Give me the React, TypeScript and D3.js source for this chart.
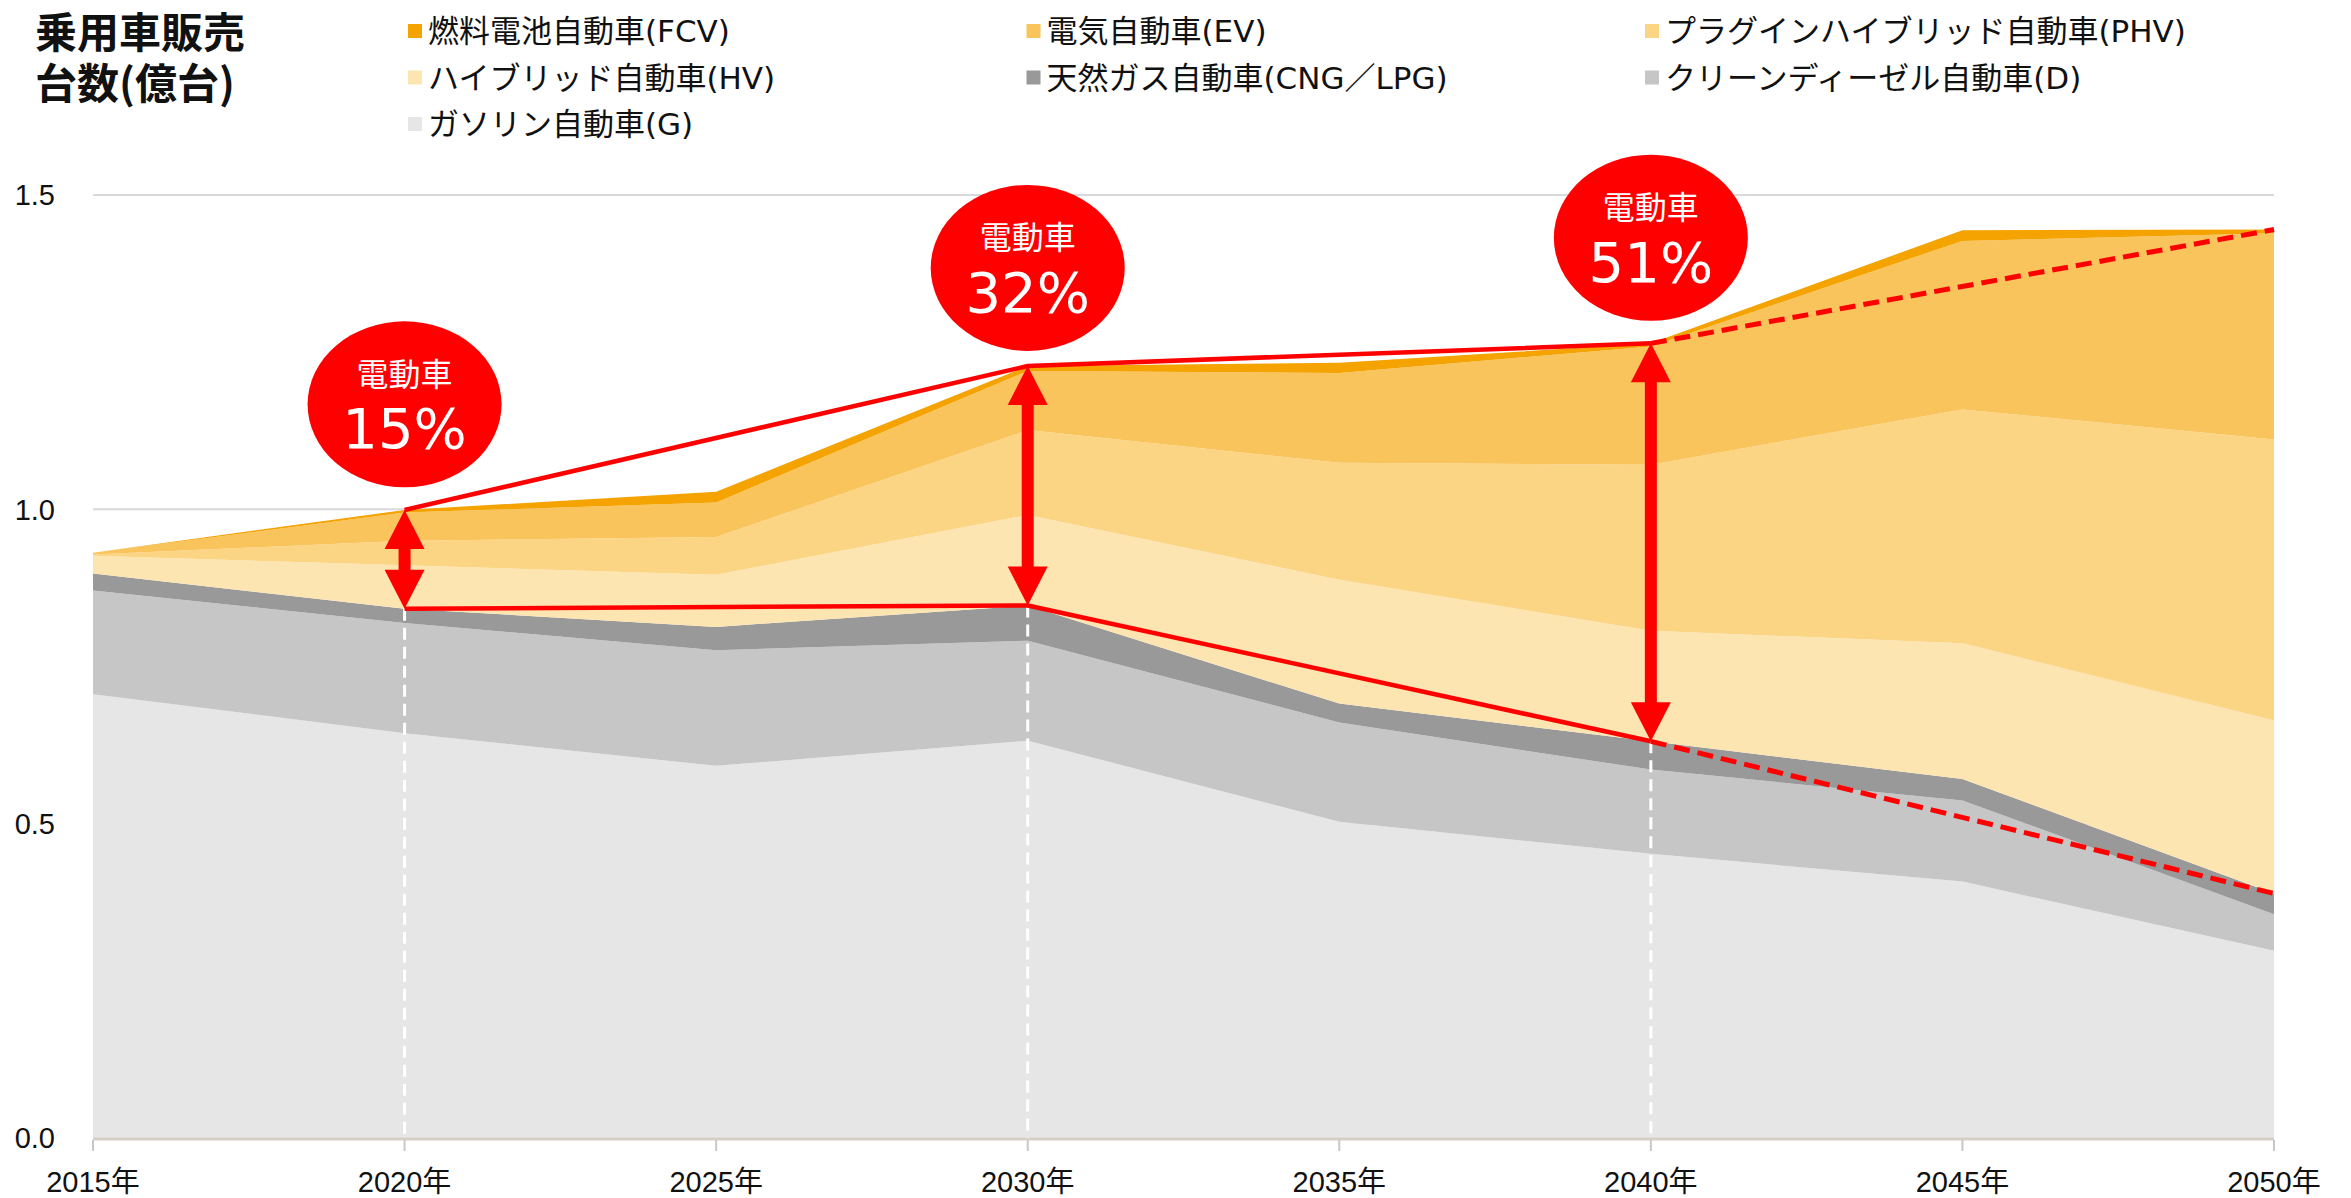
import React, { useEffect, useRef } from 'react';
import * as d3 from 'd3';

// 乗用車販売台数 (億台)
const years = [2015, 2020, 2025, 2030, 2035, 2040, 2045, 2050];
const gasoline = [0.706, 0.644, 0.592, 0.632, 0.503, 0.452, 0.408, 0.298];
const diesel = [0.165, 0.175, 0.184, 0.159, 0.158, 0.134, 0.129, 0.058];
const cng = [0.027, 0.023, 0.037, 0.056, 0.030, 0.045, 0.034, 0.033];
const hybrid = [0.028, 0.069, 0.083, 0.144, 0.197, 0.176, 0.216, 0.275];
const plugin = [0.002, 0.039, 0.060, 0.135, 0.186, 0.264, 0.372, 0.447];
const electric = [0.003, 0.045, 0.055, 0.094, 0.143, 0.188, 0.268, 0.328];
const fuelCell = [0.000, 0.004, 0.017, 0.008, 0.016, 0.005, 0.017, 0.006];

const keys = ['G', 'D', 'CNG', 'HV', 'PHV', 'EV', 'FCV'];
const seriesValues = [gasoline, diesel, cng, hybrid, plugin, electric, fuelCell];
const colors = {
    G: '#e6e6e6', D: '#c6c6c6', CNG: '#999999', HV: '#fde5b1',
    PHV: '#fbd584', EV: '#f9c45b', FCV: '#f4a300',
};

// legend order (row by row, 3 columns)
const legendKeys = ['FCV', 'EV', 'PHV', 'HV', 'CNG', 'D', 'G'];
const legendLabels = [
    '燃料電池自動車(FCV)', '電気自動車(EV)', 'プラグインハイブリッド自動車(PHV)',
    'ハイブリッド自動車(HV)', '天然ガス自動車(CNG／LPG)', 'クリーンディーゼル自動車(D)',
    'ガソリン自動車(G)',
];

const yTicks = [0, 0.5, 1.0, 1.5];
const yTickLabels = ['0.0', '0.5', '1.0', '1.5'];

// annotations
const markYears = [2020, 2030, 2040];
const shareLabels = ['15%', '32%', '51%'];
const bubbleValues = [1.167, 1.384, 1.432];
const dashedYears = [2040, 2050];

const RED = '#ff0000';
const JP = '"DejaVu Sans", "Noto Sans CJK JP", sans-serif';
const TITLE = '"Noto Sans CJK JP", sans-serif';
const NUM = '"Liberation Sans", Arial, "Noto Sans CJK JP", sans-serif';

const App = () => {
    const ref = useRef();

    useEffect(() => {
        const svg = d3.select(ref.current);
        svg.selectAll('*').remove();

        const x = d3.scaleLinear().domain([2015, 2050]).range([93, 2274]);
        const y = d3.scaleLinear().domain([0, 1.5]).range([1138, 195]);

        const rows = years.map((yr, i) => {
            const r = { year: yr };
            keys.forEach((k, j) => { r[k] = seriesValues[j][i]; });
            return r;
        });
        const stacked = d3.stack().keys(keys)(rows);

        // gridlines
        svg.append('g')
            .selectAll('line')
            .data(yTicks.filter(t => t > 0))
            .enter()
            .append('line')
            .attr('x1', x(2015)).attr('x2', x(2050))
            .attr('y1', d => y(d)).attr('y2', d => y(d))
            .attr('stroke', '#d9d9d9').attr('stroke-width', 2);

        // stacked areas
        const area = d3.area()
            .x(d => x(d.data.year))
            .y0(d => y(d[0]))
            .y1(d => y(d[1]));

        svg.append('g')
            .selectAll('path')
            .data(stacked)
            .enter()
            .append('path')
            .attr('d', area)
            .attr('fill', d => colors[d.key]);

        // x axis line + ticks
        svg.append('line')
            .attr('x1', x(2015)).attr('x2', x(2050))
            .attr('y1', y(0) + 1).attr('y2', y(0) + 1)
            .attr('stroke', '#d6d0c4').attr('stroke-width', 3);
        svg.append('g')
            .selectAll('line')
            .data(years)
            .enter()
            .append('line')
            .attr('x1', d => x(d)).attr('x2', d => x(d))
            .attr('y1', y(0) + 2).attr('y2', y(0) + 13)
            .attr('stroke', '#c8c8c8').attr('stroke-width', 2);

        // tick labels
        svg.append('g')
            .selectAll('text')
            .data(years)
            .enter()
            .append('text')
            .attr('x', d => x(d))
            .attr('y', 1192)
            .attr('text-anchor', 'middle')
            .attr('font-family', NUM)
            .attr('font-size', 29)
            .attr('fill', '#111')
            .text(d => `${d}年`);

        svg.append('g')
            .selectAll('text')
            .data(yTicks)
            .enter()
            .append('text')
            .attr('x', 55)
            .attr('y', d => y(d))
            .attr('dy', '0.36em')
            .attr('text-anchor', 'end')
            .attr('font-family', NUM)
            .attr('font-size', 29)
            .attr('fill', '#111')
            .text((d, i) => yTickLabels[i]);

        const total = i => stacked[stacked.length - 1][i][1];
        const nonElectric = i => stacked[2][i][1];
        const idx = yr => years.indexOf(yr);

        // white dashed verticals
        svg.append('g')
            .selectAll('line')
            .data(markYears)
            .enter()
            .append('line')
            .attr('x1', d => x(d)).attr('x2', d => x(d))
            .attr('y1', d => y(nonElectric(idx(d))))
            .attr('y2', y(0))
            .attr('stroke', '#fff')
            .attr('stroke-width', 3)
            .attr('stroke-dasharray', '12 7');

        // red solid lines
        const line = d3.line().x(d => x(d[0])).y(d => y(d[1]));
        svg.append('path')
            .attr('d', line(markYears.map(yr => [yr, total(idx(yr))])))
            .attr('fill', 'none').attr('stroke', RED).attr('stroke-width', 4.5)
            .attr('stroke-linejoin', 'round');
        svg.append('path')
            .attr('d', line(markYears.map(yr => [yr, nonElectric(idx(yr))])))
            .attr('fill', 'none').attr('stroke', RED).attr('stroke-width', 4.5)
            .attr('stroke-linejoin', 'round');

        // red dashed projections
        svg.append('path')
            .attr('d', line(dashedYears.map(yr => [yr, total(idx(yr))])))
            .attr('fill', 'none').attr('stroke', RED).attr('stroke-width', 5)
            .attr('stroke-dasharray', '16 8');
        svg.append('path')
            .attr('d', line(dashedYears.map(yr => [yr, nonElectric(idx(yr))])))
            .attr('fill', 'none').attr('stroke', RED).attr('stroke-width', 5)
            .attr('stroke-dasharray', '16 8');

        // double headed arrows
        const arrow = (cx, top, bot) => {
            const s = 6, h = 20, L = 39;
            return `M${cx},${top} L${cx + h},${top + L} L${cx + s},${top + L} L${cx + s},${bot - L}` +
                ` L${cx + h},${bot - L} L${cx},${bot} L${cx - h},${bot - L} L${cx - s},${bot - L}` +
                ` L${cx - s},${top + L} L${cx - h},${top + L} Z`;
        };
        svg.append('g')
            .selectAll('path')
            .data(markYears)
            .enter()
            .append('path')
            .attr('d', d => arrow(x(d), y(total(idx(d))), y(nonElectric(idx(d)))))
            .attr('fill', RED);

        // share bubbles
        const bubbles = svg.append('g')
            .selectAll('g')
            .data(markYears)
            .enter()
            .append('g')
            .attr('transform', (d, i) => `translate(${x(d)},${y(bubbleValues[i])})`);
        bubbles.append('ellipse')
            .attr('rx', 97).attr('ry', 83)
            .attr('fill', RED);
        bubbles.append('text')
            .attr('y', -30)
            .attr('dy', '0.36em')
            .attr('text-anchor', 'middle')
            .attr('font-family', TITLE)
            .attr('font-size', 32)
            .attr('fill', '#fff')
            .text('電動車');
        bubbles.append('text')
            .attr('y', 44)
            .attr('text-anchor', 'middle')
            .attr('font-family', JP)
            .attr('font-size', 56)
            .attr('fill', '#fff')
            .text((d, i) => shareLabels[i]);

        // legend
        const legend = svg.append('g')
            .selectAll('g')
            .data(legendKeys)
            .enter()
            .append('g')
            .attr('transform', (d, i) => `translate(${408 + (i % 3) * 618.5},${31 + Math.floor(i / 3) * 46.5})`);
        legend.append('rect')
            .attr('x', 0).attr('y', -7)
            .attr('width', 14).attr('height', 14)
            .attr('fill', d => colors[d]);
        legend.append('text')
            .attr('x', 20)
            .attr('dy', '0.36em')
            .attr('font-family', JP)
            .attr('font-size', 31)
            .attr('fill', '#111')
            .text((d, i) => legendLabels[i]);

        // title, two lines
        const titleLines = ['乗用車販売', '台数(億台)'];
        svg.append('g')
            .selectAll('text')
            .data(titleLines)
            .enter()
            .append('text')
            .attr('x', 35)
            .attr('y', (d, i) => 48 + i * 51)
            .attr('font-family', TITLE)
            .attr('font-size', 42)
            .attr('font-weight', 700)
            .attr('fill', '#111')
            .text(d => d);
    }, []);

    return (
        <svg ref={ref} width={2351} height={1198}
            style={{ position: 'absolute', left: 0, top: 0, display: 'block', background: '#fff' }} />
    );
};

export default App;
